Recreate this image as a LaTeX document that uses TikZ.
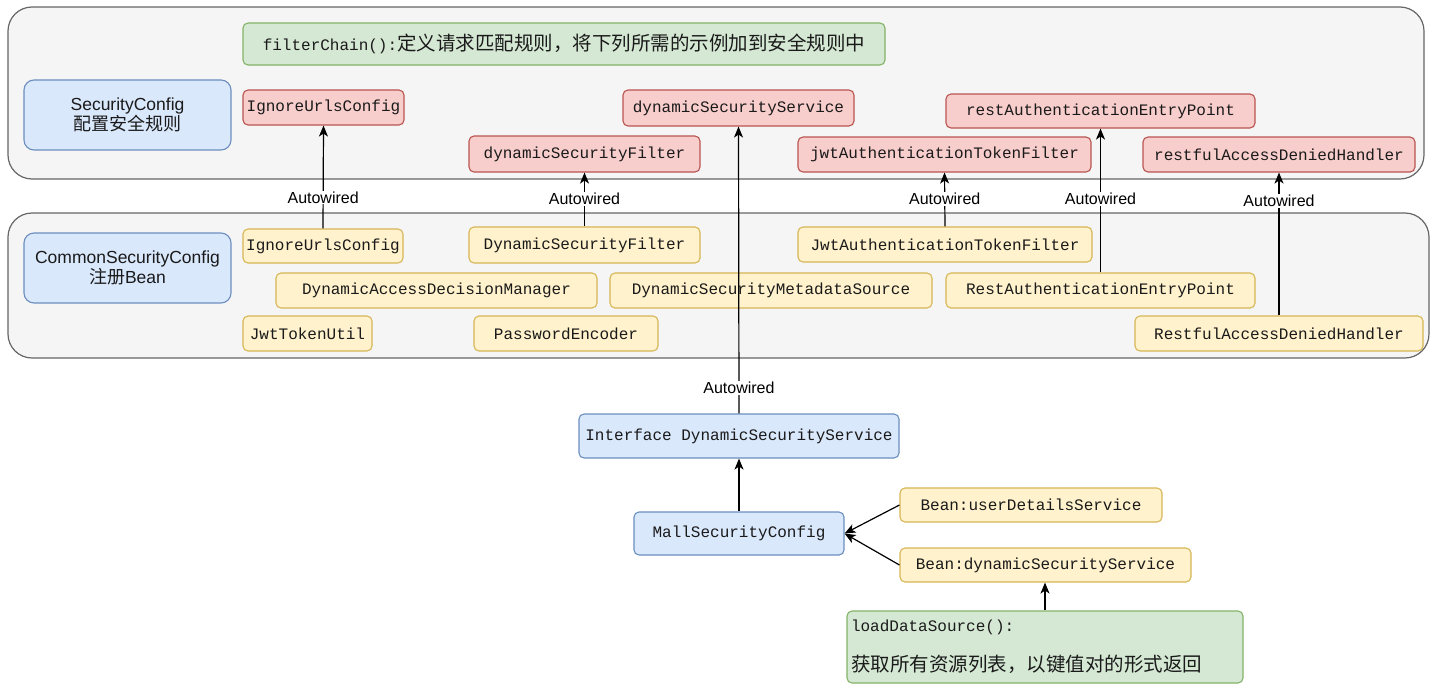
\documentclass[tikz,border=0pt]{standalone}
\usepackage{fontspec}
\setmainfont{Liberation Sans}
\newfontfamily\codefont{Liberation Mono}
\newfontfamily\cjkfont{Noto Sans CJK SC}
\usetikzlibrary{arrows.meta}

\definecolor{panelfill}{HTML}{F5F5F5}
\definecolor{paneldraw}{HTML}{666666}
\definecolor{greenfill}{HTML}{D5E8D4}
\definecolor{greendraw}{HTML}{82B366}
\definecolor{bluefill}{HTML}{DAE8FC}
\definecolor{bluedraw}{HTML}{6C8EBF}
\definecolor{redfill}{HTML}{F8CECC}
\definecolor{reddraw}{HTML}{B85450}
\definecolor{yellowfill}{HTML}{FFF2CC}
\definecolor{yellowdraw}{HTML}{D6B656}
\definecolor{txt}{HTML}{1A1A1A}

% Chinese runs inside code-font boxes
\newcommand\zhcode[1]{{\cjkfont\fontsize{19.5}{22}\selectfont #1}}
% Chinese runs inside sans boxes
\newcommand\zhsans[1]{{\cjkfont\fontsize{18}{21}\selectfont #1}}

\tikzset{
  every node/.style={inner sep=0pt, text=txt},
  panel/.style={draw=paneldraw, fill=panelfill, line width=1.2pt, rounded corners=24pt},
  codebox/.style={line width=1.1pt, rounded corners=5pt,
    font=\codefont\fontsize{16}{19}\selectfont, align=center},
  redbox/.style={codebox, draw=reddraw, fill=redfill},
  yellowbox/.style={codebox, draw=yellowdraw, fill=yellowfill},
  greenbox/.style={codebox, draw=greendraw, fill=greenfill},
  bluecode/.style={codebox, draw=bluedraw, fill=bluefill},
  bluebox/.style={draw=bluedraw, fill=bluefill, line width=1.1pt, rounded corners=10pt,
    font=\fontsize{17.5}{21}\selectfont, align=center},
  wire/.style={line width=1.2pt, black, -{Stealth[length=11pt,width=9pt,inset=3pt]}},
  lbl/.style={fill=white, font=\fontsize{16}{19}\selectfont, text=black, inner sep=1pt},
}

\begin{document}
\begin{tikzpicture}[x=1pt, y=-1pt]
\useasboundingbox (0,0) rectangle (1436,691);

% ---- panels ----
\node[panel, minimum width=1416, minimum height=172] (secpanel) at (716,93) {};
\node[panel, minimum width=1421, minimum height=145] (commonpanel) at (718.5,285.5) {};

% ---- SecurityConfig panel ----
\node[greenbox, minimum width=642, minimum height=42] (filterchain) at (564,44)
  {filterChain():\zhcode{定义请求匹配规则，将下列所需的示例加到安全规则中}};
\node[bluebox, minimum width=207, minimum height=70] (secconf) at (127.5,115)
  {SecurityConfig\\[-1pt]\zhsans{配置安全规则}};
\node[redbox, minimum width=161, minimum height=35] (rIgnore) at (323.5,107.5) {IgnoreUrlsConfig};
\node[redbox, minimum width=231, minimum height=36] (rDynService) at (738.5,108) {dynamicSecurityService};
\node[redbox, minimum width=231, minimum height=36] (rDynFilter) at (584.5,154) {dynamicSecurityFilter};
\node[redbox, minimum width=309, minimum height=34] (rRestEntry) at (1100.5,111) {restAuthenticationEntryPoint};
\node[redbox, minimum width=293, minimum height=35] (rJwtFilter) at (944.5,154.5) {jwtAuthenticationTokenFilter};
\node[redbox, minimum width=272, minimum height=35] (rRestful) at (1279,154.5) {restfulAccessDeniedHandler};

% ---- CommonSecurityConfig panel ----
\node[bluebox, minimum width=207, minimum height=70] (commonconf) at (127.5,268)
  {CommonSecurityConfig\\[-1pt]\zhsans{注册}Bean};
\node[yellowbox, minimum width=160, minimum height=34] (yIgnore) at (323,246) {IgnoreUrlsConfig};
\node[yellowbox, minimum width=231, minimum height=36] (yDynFilter) at (584.5,245) {DynamicSecurityFilter};
\node[yellowbox, minimum width=294, minimum height=35] (yJwtFilter) at (945,244.5) {JwtAuthenticationTokenFilter};
\node[yellowbox, minimum width=321, minimum height=35] (yDecision) at (436.5,290.5) {DynamicAccessDecisionManager};
\node[yellowbox, minimum width=322, minimum height=35] (yMetadata) at (771,290.5) {DynamicSecurityMetadataSource};
\node[yellowbox, minimum width=309, minimum height=35] (yRestEntry) at (1100.5,290.5) {RestAuthenticationEntryPoint};
\node[yellowbox, minimum width=129, minimum height=35] (yJwtUtil) at (307.5,333.5) {JwtTokenUtil};
\node[yellowbox, minimum width=184, minimum height=35] (yPassword) at (566,333.5) {PasswordEncoder};
\node[yellowbox, minimum width=288, minimum height=35] (yRestful) at (1279,333.5) {RestfulAccessDeniedHandler};

% ---- mall module ----
\node[bluecode, minimum width=320, minimum height=44] (iface) at (739,436) {Interface DynamicSecurityService};
\node[bluecode, minimum width=210, minimum height=43] (mall) at (739,533.5) {MallSecurityConfig};
\node[yellowbox, minimum width=262, minimum height=34] (bUser) at (1031,505) {Bean:userDetailsService};
\node[yellowbox, minimum width=291, minimum height=34] (bDyn) at (1045.5,565) {Bean:dynamicSecurityService};
\node[greenbox, minimum width=396, minimum height=72, text width=388, align=left, inner xsep=4pt] (loadds) at (1045,647)
  {loadDataSource():\\[19pt]\zhcode{获取所有资源列表，以键值对的形式返回}};

% ---- autowiring ----
\draw[wire] (yIgnore.north) -- (rIgnore.south) node[lbl, pos=0.3] {Autowired};
\draw[wire] (yDynFilter.north) -- (rDynFilter.south) node[lbl, pos=0.51] {Autowired};
\draw[wire] (yJwtFilter.north) -- (rJwtFilter.south) node[lbl, pos=0.51] {Autowired};
\draw[wire] (yRestEntry.north) -- (rRestEntry.south) node[lbl, pos=0.51] {Autowired};
\draw[wire] (yRestful.north) -- (rRestful.south) node[lbl, pos=0.8] {Autowired};
\draw[wire] (iface.north) -- (rDynService.south) node[lbl, pos=0.09] {Autowired};

% ---- mall implementation ----
\draw[wire] (mall.north) -- (iface.south);
\draw[wire] (bUser.west) -- (mall.east);
\draw[wire] (bDyn.west) -- (mall.east);
\draw[wire] (loadds.north) -- (loadds.north |- bDyn.south);
\end{tikzpicture}
\end{document}
